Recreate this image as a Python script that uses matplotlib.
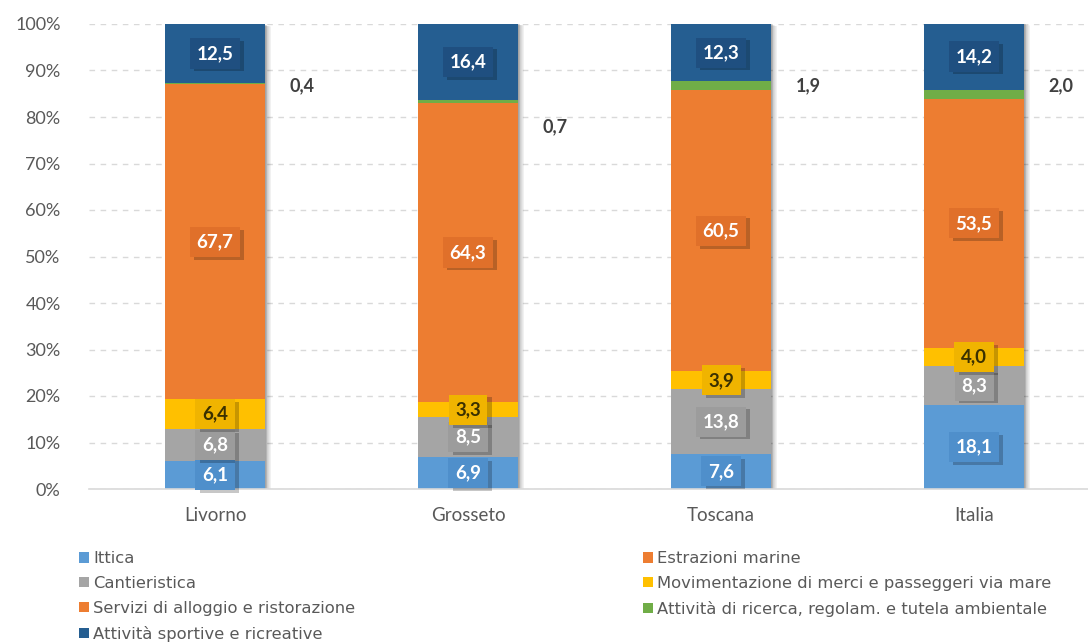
import matplotlib
matplotlib.use("Agg")
import matplotlib.pyplot as plt
import matplotlib.patheffects as pe
from matplotlib.ticker import PercentFormatter
import numpy as np

plt.rcParams['font.family'] = ['Lato', 'DejaVu Sans']

categories = ["Livorno", "Grosseto", "Toscana", "Italia"]
series_names = [
    "Ittica",
    "Estrazioni marine",
    "Cantieristica",
    "Movimentazione di merci e passeggeri via mare",
    "Servizi di alloggio e ristorazione",
    "Attività di ricerca, regolam. e tutela ambientale",
    "Attività sportive e ricreative",
]
ittica = [6.1, 6.9, 7.6, 18.1]
estrazioni = [0.0, 0.0, 0.0, 0.0]
cantieristica = [6.8, 8.5, 13.8, 8.3]
movimentazione = [6.4, 3.3, 3.9, 4.0]
servizi = [67.7, 64.3, 60.5, 53.5]
ricerca = [0.4, 0.7, 1.9, 2.0]
sportive = [12.5, 16.4, 12.3, 14.2]
yticks = [0, 10, 20, 30, 40, 50, 60, 70, 80, 90, 100]

series = [ittica, estrazioni, cantieristica, movimentazione, servizi, ricerca, sportive]
colors = ["#5B9BD5", "#ED7D31", "#A5A5A5", "#FFC000", "#ED7D31", "#70AD47", "#255E91"]
box_colors = ["#4F8FCB", None, "#9C9C9C", "#F0B400", "#E0702A", None, "#1F4F80"]
text_colors = ["white", None, "white", "#3A3000", "white", None, "white"]

fig = plt.figure(figsize=(10.88, 6.44), dpi=100)
ax = fig.add_axes([88.5 / 1088, 155 / 644, 1012 / 1088, 465 / 644])

x = np.arange(len(categories))
width = 0.395
px = 1.0 / 253.0  # one pixel in x data units

# soft shadow behind whole stacks
totals = np.sum(np.array(series), axis=0)
for k, a in zip(range(1, 9), [0.10, 0.09, 0.08, 0.07, 0.06, 0.05, 0.04, 0.03]):
    ax.bar(x + k * px * 0.8, totals, width, bottom=-0.06 * k, color="black",
           alpha=a * 0.8, zorder=2, linewidth=0)

bottom = np.zeros(len(categories))
handles = []
for i, (vals, col) in enumerate(zip(series, colors)):
    vals = np.array(vals)
    bars = ax.bar(x, vals, width, bottom=bottom, color=col, label=series_names[i],
                  zorder=3, linewidth=0)
    handles.append(bars)
    bottom = bottom + vals

# labels
bottom = np.zeros(len(categories))
green_label_y = [86.7, 78.0, 86.7, 86.7]
for i, vals in enumerate(series):
    vals = np.array(vals)
    for j, v in enumerate(vals):
        if i == 5:
            ax.text(x[j] + 0.345, green_label_y[j], f"{v:.1f}".replace(".", ","),
                    ha="center", va="center", fontsize=13, fontweight="bold",
                    color="#404040", zorder=5)
        elif v > 0 and box_colors[i] is not None:
            t = ax.text(x[j], bottom[j] + v / 2, f"{v:.1f}".replace(".", ","),
                        ha="center", va="center", fontsize=13.5, fontweight="bold",
                        color=text_colors[i], zorder=5,
                        bbox=dict(boxstyle="square,pad=0.35", fc=box_colors[i], ec="none"))
            t.get_bbox_patch().set_path_effects(
                [pe.SimplePatchShadow(offset=(3, -2), shadow_rgbFace="#000000", alpha=0.22), pe.Normal()])
    bottom = bottom + vals

ax.set_xlim(-0.5, 3.5)
ax.set_ylim(0, 100)
ax.set_yticks(yticks)
ax.yaxis.set_major_formatter(PercentFormatter(decimals=0))
ax.set_xticks(x)
ax.set_xticklabels(categories)
ax.tick_params(axis="both", length=0, labelsize=13.5, colors="#595959")
ax.tick_params(axis="y", pad=20)
ax.tick_params(axis="x", pad=13)
for lab in ax.get_yticklabels():
    lab.set_fontsize(13)
for s in ["top", "right", "left"]:
    ax.spines[s].set_visible(False)
ax.spines["bottom"].set_color("#D9D9D9")
ax.spines["bottom"].set_linewidth(1.2)
ax.spines["bottom"].set_zorder(4)
ax.grid(axis="y", color="#D9D9D9", linestyle=(0, (4, 4)), linewidth=1, zorder=0)
ax.set_axisbelow(True)

left_idx = [0, 2, 4, 6]
right_idx = [1, 3, 5]
common = dict(frameon=False, prop={'family': 'DejaVu Sans', 'size': 11.8},
              handlelength=0.6, handleheight=0.6,
              handletextpad=0.25, labelspacing=0.6, borderpad=0, labelcolor="#595959")
leg1 = fig.legend([handles[k] for k in left_idx], [series_names[k] for k in left_idx],
                  loc="upper left", bbox_to_anchor=(71 / 1088, 1 - 543 / 644), **common)
leg2 = fig.legend([handles[k] for k in right_idx], [series_names[k] for k in right_idx],
                  loc="upper left", bbox_to_anchor=(635 / 1088, 1 - 543 / 644), **common)

fig.savefig("out.png", dpi=100)
